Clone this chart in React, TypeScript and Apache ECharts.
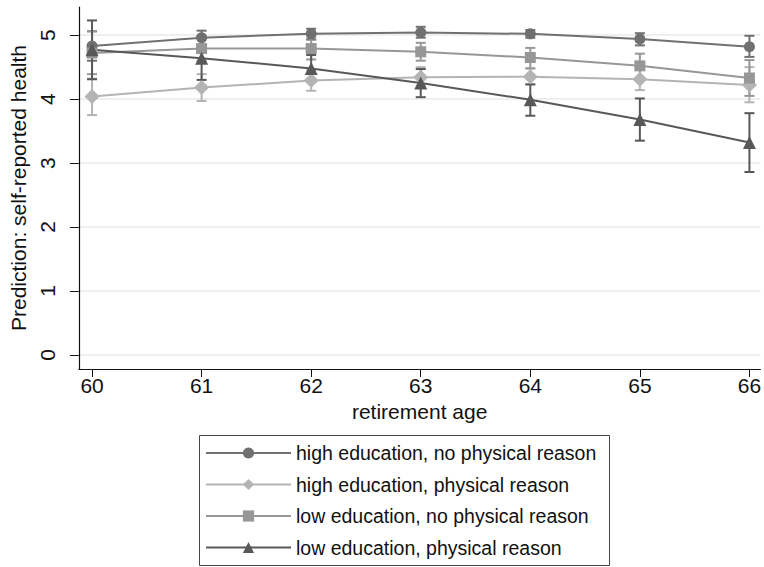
import React, { useEffect, useRef } from "react";
import * as echarts from "echarts";

const ages = [60, 61, 62, 63, 64, 65, 66];
const yTicks = [0, 1, 2, 3, 4, 5];

const seriesNames = [
  "high education, no physical reason",
  "high education, physical reason",
  "low education, no physical reason",
  "low education, physical reason",
];

const highNoPhys = [4.83, 4.96, 5.02, 5.04, 5.02, 4.94, 4.82];
const highNoPhysLow = [4.6, 4.84, 4.93, 4.96, 4.96, 4.84, 4.66];
const highNoPhysHigh = [5.06, 5.07, 5.1, 5.13, 5.08, 5.03, 4.99];

const highPhys = [4.04, 4.18, 4.29, 4.34, 4.35, 4.31, 4.22];
const highPhysLow = [3.75, 3.97, 4.13, 4.2, 4.23, 4.14, 3.95];
const highPhysHigh = [4.32, 4.39, 4.45, 4.5, 4.48, 4.48, 4.5];

const lowNoPhys = [4.72, 4.79, 4.79, 4.74, 4.65, 4.52, 4.33];
const lowNoPhysLow = [4.39, 4.6, 4.62, 4.6, 4.48, 4.33, 4.05];
const lowNoPhysHigh = [5.06, 4.98, 4.95, 4.88, 4.8, 4.71, 4.61];

const lowPhys = [4.77, 4.64, 4.48, 4.25, 3.99, 3.68, 3.32];
const lowPhysLow = [4.31, 4.3, 4.27, 4.03, 3.74, 3.35, 2.86];
const lowPhysHigh = [5.23, 4.98, 4.69, 4.47, 4.23, 4.01, 3.78];

const colors = ["#707070", "#b4b4b4", "#979797", "#585858"];
const symbols = ["circle", "diamond", "rect", "triangle"];
const symbolSizes = [11, 15, 11, 13];

const values = [highNoPhys, highPhys, lowNoPhys, lowPhys];
const lows = [highNoPhysLow, highPhysLow, lowNoPhysLow, lowPhysLow];
const highs = [highNoPhysHigh, highPhysHigh, lowNoPhysHigh, lowPhysHigh];

const FONT = "Liberation Sans, Arial, sans-serif";

export default function App() {
  const ref = useRef<HTMLDivElement>(null);
  useEffect(() => {
    if (!ref.current) return;
    const chart = echarts.init(ref.current, undefined, { renderer: "svg" });

    const errorSeries = values.map((_, k) => ({
      type: "custom",
      name: "ci" + k,
      z: 2,
      data: ages.map((a, i) => [a, lows[k][i], highs[k][i]]),
      encode: { x: 0, y: [1, 2] },
      renderItem: (params: any, api: any) => {
        const x = api.value(0);
        const pLo = api.coord([x, api.value(1)]);
        const pHi = api.coord([x, api.value(2)]);
        const w = 5;
        const style = { stroke: colors[k], lineWidth: 2 };
        return {
          type: "group",
          children: [
            { type: "line", shape: { x1: pLo[0], y1: pLo[1], x2: pHi[0], y2: pHi[1] }, style },
            { type: "line", shape: { x1: pLo[0] - w, y1: pLo[1], x2: pLo[0] + w, y2: pLo[1] }, style },
            { type: "line", shape: { x1: pHi[0] - w, y1: pHi[1], x2: pHi[0] + w, y2: pHi[1] }, style },
          ],
        };
      },
    }));

    const lineSeries = values.map((v, k) => ({
      type: "line",
      name: seriesNames[k],
      z: 3,
      data: ages.map((a, i) => [a, v[i]]),
      symbol: symbols[k],
      symbolSize: symbolSizes[k],
      showAllSymbol: true,
      lineStyle: { color: colors[k], width: 2 },
      itemStyle: { color: colors[k] },
      emphasis: { disabled: true },
    }));

    chart.setOption({
      animation: false,
      backgroundColor: "#ffffff",
      textStyle: { fontFamily: FONT },
      grid: { left: 72, right: 2, top: 7, bottom: 198, containLabel: false },
      xAxis: {
        type: "value",
        min: 59.88,
        max: 66.1,
        name: "retirement age",
        nameLocation: "middle",
        nameGap: 31,
        nameTextStyle: { fontSize: 21, color: "#111", fontFamily: FONT },
        axisLine: { show: true, onZero: false, lineStyle: { color: "#111", width: 1.2 } },
        axisTick: { show: true, length: 8, customValues: ages, lineStyle: { color: "#111" } },
        axisLabel: { customValues: ages, fontSize: 21, color: "#111", margin: 6, fontFamily: FONT },
        splitLine: { show: false },
      },
      yAxis: {
        type: "value",
        min: -0.22,
        max: 5.44,
        name: "Prediction: self-reported health",
        nameLocation: "middle",
        nameGap: 44,
        nameTextStyle: { fontSize: 21, color: "#111", fontFamily: FONT },
        axisLine: { show: true, onZero: false, lineStyle: { color: "#111", width: 1.2 } },
        axisTick: { show: true, length: 9, customValues: yTicks, lineStyle: { color: "#111" } },
        axisLabel: { customValues: yTicks, rotate: 90, fontSize: 21, color: "#111", margin: 21, fontFamily: FONT },
        splitLine: { show: true, customValues: yTicks, lineStyle: { color: "#eaeaea", width: 1.5 } },
      },
      legend: {
        data: seriesNames,
        orient: "vertical",
        left: 205,
        top: 443,
        height: 125,
        itemWidth: 85,
        itemHeight: 14,
        itemGap: 11.5,
        padding: 0,
        textStyle: { fontSize: 19.5, color: "#111", fontFamily: FONT, lineHeight: 20 },
        selectedMode: false,
      },
      graphic: [
        {
          type: "rect",
          left: 197,
          top: 433,
          shape: { width: 410, height: 130 },
          style: { fill: "none", stroke: "#444", lineWidth: 1 },
          silent: true,
        },
      ],
      series: [...errorSeries, ...lineSeries],
    });
    return () => chart.dispose();
  }, []);
  return (
    <div
      ref={ref}
      style={{ position: "fixed", left: 0, top: 0, width: 764, height: 567, background: "#fff" }}
    />
  );
}
